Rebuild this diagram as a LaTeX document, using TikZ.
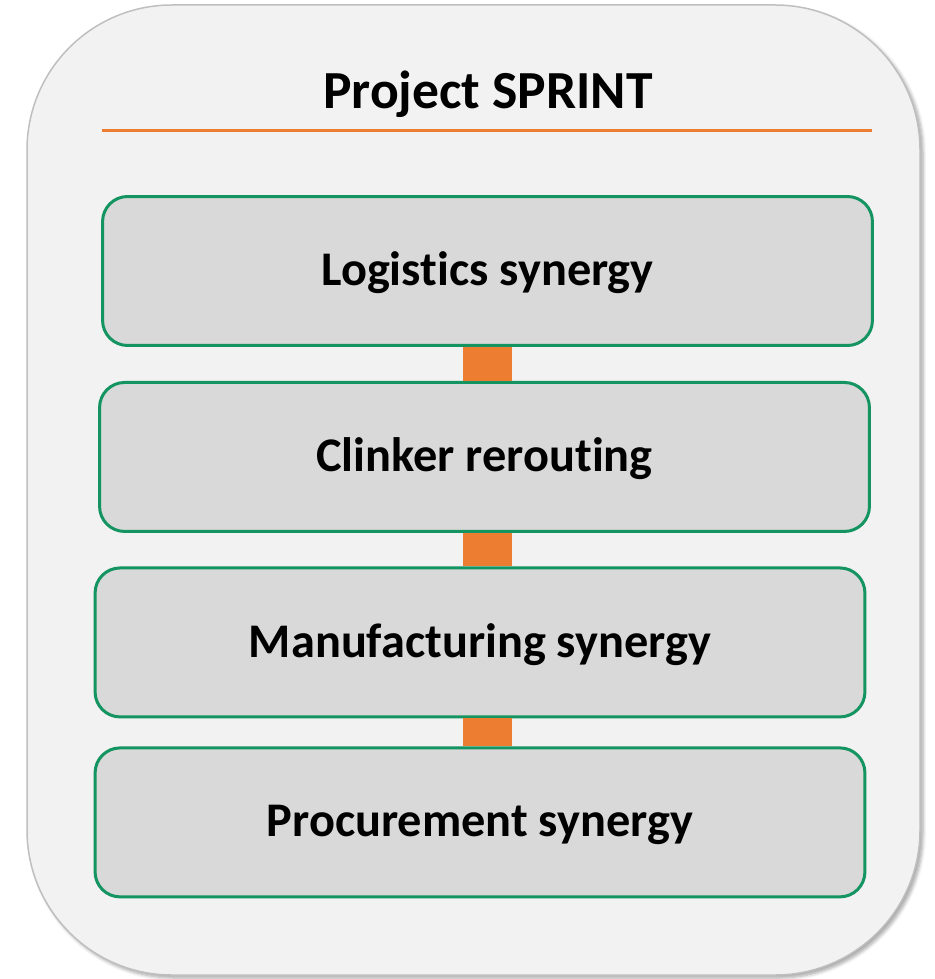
\documentclass[tikz,border=0pt]{standalone}
\usepackage{fontspec}
\setmainfont{Carlito}[Ligatures={NoCommon,NoContextual}]
\usetikzlibrary{positioning,shadows.blur}
\definecolor{stagegreen}{RGB}{20,148,96}
\definecolor{linkorange}{RGB}{237,125,49}
\definecolor{stagefill}{RGB}{217,217,217}
\definecolor{framefill}{RGB}{242,242,242}
\definecolor{frameline}{RGB}{191,191,191}
\begin{document}
\begin{tikzpicture}[x=0.02cm,y=-0.02cm,
		stage/.style={draw=stagegreen, line width=0.06cm, fill=stagefill, rounded corners=0.5cm, outer sep=0pt,
			minimum width=15.4cm, minimum height=2.98cm, text depth=0.08cm, font=\fontsize{27.5}{32}\selectfont\bfseries},
		link/.style={linkorange, line width=0.98cm, shorten <=0.03cm, shorten >=0.03cm}]
				\useasboundingbox (0,0) rectangle (935,979);
				% outer frame
				\draw[frameline, fill=framefill, line width=0.03cm, rounded corners=2.9cm,
					blur shadow={shadow xshift=0.06cm, shadow yshift=-0.06cm, shadow blur steps=6, shadow opacity=35}]
					(27,5) rectangle (920,975);
				\node (title) [font=\fontsize{30.5}{36}\selectfont\bfseries] at (488,94) {Project SPRINT};
				\coordinate (ruleL) at (102,131);
				\coordinate (ruleR) at (872,131);
				\draw[linkorange, line width=0.06cm] (ruleL) -- (ruleR);
				\node (logi) [stage] at (487.5,271) {Logistics synergy};
				\node (clink) [stage, below=0.74cm of logi, xshift=-0.06cm] {Clinker rerouting};
				\node (manu) [stage, below=0.73cm of clink, xshift=-0.09cm] {Manufacturing synergy};
				\node (proc) [stage, below=0.62cm of manu] {Procurement synergy};
				\draw[link] (logi.south) -- (clink.north -| logi.south);
				\draw[link] (clink.south -| logi.south) -- (manu.north -| logi.south);
				\draw[link] (manu.south -| logi.south) -- (proc.north -| logi.south);
			\end{tikzpicture}
\end{document}
